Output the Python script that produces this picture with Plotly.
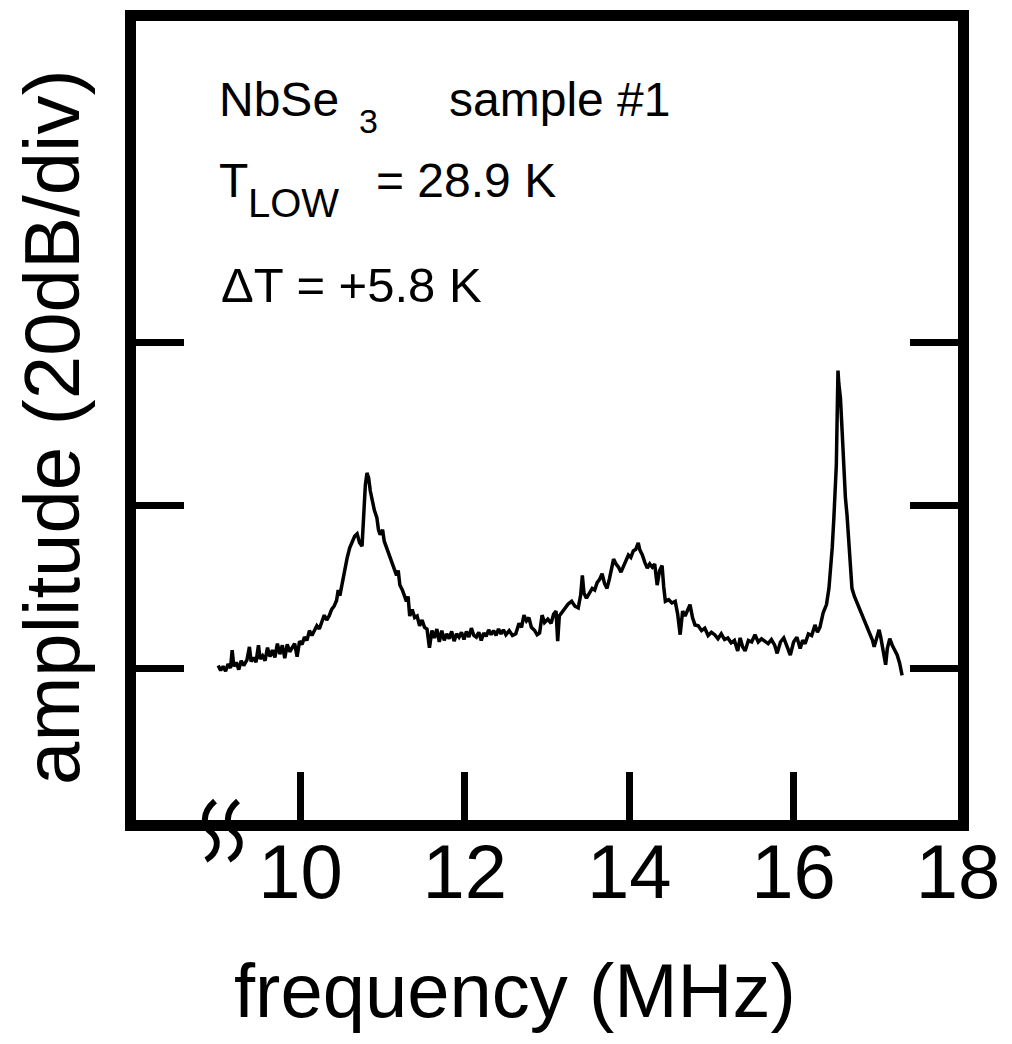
import plotly.graph_objects as go

# ---------------- data ----------------
freq_mhz = [
    9.00, 9.03, 9.06, 9.09, 9.12, 9.15, 9.17, 9.19, 9.22, 9.25, 9.28, 9.31, 9.35, 9.38, 9.40,
    9.43, 9.46, 9.49, 9.51, 9.54, 9.57, 9.60, 9.63, 9.66, 9.69, 9.72, 9.75, 9.78, 9.81, 9.84,
    9.87, 9.90, 9.93, 9.96, 9.99, 10.02, 10.05, 10.08, 10.11, 10.14, 10.17, 10.20, 10.23, 10.26,
    10.29, 10.32, 10.35, 10.38, 10.41, 10.44, 10.46, 10.48, 10.51, 10.54, 10.57, 10.60, 10.63,
    10.66, 10.69, 10.72, 10.75, 10.77, 10.79, 10.81, 10.83, 10.85, 10.88, 10.90, 10.93, 10.95,
    10.97, 11.00, 11.02, 11.05, 11.09, 11.13, 11.17, 11.19, 11.21, 11.24, 11.27, 11.29, 11.31,
    11.33, 11.36, 11.39, 11.42, 11.45, 11.48, 11.51, 11.54, 11.57, 11.60, 11.63, 11.66, 11.69,
    11.72, 11.75, 11.78, 11.81, 11.84, 11.87, 11.90, 11.93, 11.96, 11.99, 12.02, 12.05, 12.08,
    12.11, 12.14, 12.17, 12.20, 12.23, 12.26, 12.29, 12.32, 12.35, 12.38, 12.41, 12.44, 12.47,
    12.50, 12.54, 12.58, 12.62, 12.66, 12.69, 12.72, 12.75, 12.78, 12.81, 12.85, 12.88, 12.91,
    12.94, 12.97, 13.01, 13.05, 13.08, 13.11, 13.13, 13.15, 13.18, 13.22, 13.26, 13.30, 13.34,
    13.38, 13.41, 13.43, 13.45, 13.48, 13.52, 13.55, 13.58, 13.61, 13.64, 13.67, 13.70, 13.73,
    13.76, 13.79, 13.81, 13.84, 13.87, 13.90, 13.93, 13.96, 13.99, 14.02, 14.05, 14.08, 14.11,
    14.13, 14.16, 14.19, 14.22, 14.25, 14.28, 14.31, 14.34, 14.37, 14.40, 14.42, 14.44, 14.48,
    14.52, 14.56, 14.59, 14.62, 14.65, 14.68, 14.71, 14.74, 14.77, 14.80, 14.84, 14.88, 14.92,
    14.96, 15.00, 15.04, 15.08, 15.12, 15.16, 15.20, 15.24, 15.28, 15.32, 15.35, 15.38, 15.41,
    15.45, 15.49, 15.53, 15.57, 15.61, 15.65, 15.69, 15.73, 15.77, 15.80, 15.84, 15.88, 15.92,
    15.96, 16.00, 16.04, 16.08, 16.11, 16.14, 16.18, 16.22, 16.26, 16.29, 16.32, 16.36, 16.40,
    16.43, 16.45, 16.47, 16.49, 16.51, 16.52, 16.53, 16.54, 16.55, 16.57, 16.59, 16.61, 16.63,
    16.65, 16.67, 16.69, 16.71, 16.74, 16.78, 16.82, 16.86, 16.90, 16.93, 16.96, 16.98, 17.01,
    17.04, 17.06, 17.08, 17.10, 17.12, 17.14, 17.17, 17.20, 17.23, 17.26, 17.29, 17.32,
]
amp_db = [
    0.3, -0.3, 0.2, -0.4, 0.5, 0.0, 2.2, 0.2, 0.7, -0.2, 0.9, 0.3, 1.0, 2.6, 0.8,
    1.3, 0.7, 2.8, 1.1, 1.5, 0.9, 2.5, 1.4, 2.2, 1.3, 3.0, 1.7, 2.8, 1.2, 2.9,
    2.0, 2.6, 3.0, 1.4, 3.3, 2.9, 3.8, 3.4, 4.6, 4.0, 4.7, 5.2, 4.8, 5.8,
    6.5, 5.9, 6.4, 7.2, 7.6, 8.3, 9.6, 8.9, 10.6, 12.4, 13.6, 14.8, 15.6,
    16.2, 16.5, 15.4, 15.0, 18.5, 22.5, 24.0, 23.4, 21.8, 20.2, 19.4, 18.5, 17.0,
    16.4, 17.0, 15.6, 14.8, 13.6, 12.4, 11.4, 12.0, 10.2, 9.6, 8.6, 8.2, 8.8,
    6.4, 7.2, 6.2, 6.4, 5.2, 5.9, 5.0, 4.8, 2.5, 4.6, 3.7, 4.8, 3.2,
    4.6, 3.4, 4.2, 3.6, 4.5, 3.3, 4.2, 3.8, 4.4, 3.5, 4.5, 3.8, 4.9,
    4.0, 3.8, 4.4, 3.4, 4.3, 3.9, 4.7, 4.1, 4.6, 4.0, 4.8, 4.2, 4.7,
    4.1, 4.6, 4.0, 4.2, 5.5, 5.0, 6.5, 5.8, 6.2, 5.0, 4.6, 4.1, 4.3,
    6.5, 5.6, 6.0, 5.5, 6.6, 7.0, 3.3, 6.4, 6.8, 7.4, 7.9, 8.2, 7.6,
    7.4, 9.0, 11.4, 9.2, 8.6, 9.4, 9.8, 9.6, 10.5, 10.9, 11.6, 10.4, 9.8,
    11.0, 12.6, 13.4, 12.8, 12.4, 11.8, 12.6, 13.4, 13.9, 13.6, 14.4, 14.6, 15.4,
    14.5, 13.9, 13.0, 12.3, 12.8, 12.4, 12.8, 10.2, 12.0, 12.6, 10.0, 8.2, 8.4,
    8.0, 8.2, 6.6, 4.1, 7.0, 6.4, 7.2, 7.8, 6.2, 5.3, 5.2, 4.6, 4.9,
    4.0, 4.4, 4.1, 3.6, 4.2, 3.5, 3.7, 3.1, 3.4, 2.1, 3.7, 2.6, 2.1,
    3.4, 3.2, 4.1, 3.2, 3.6, 3.3, 3.0, 3.5, 2.8, 1.8, 3.2, 3.7, 2.6,
    1.6, 3.2, 3.8, 2.4, 3.4, 3.0, 4.2, 4.0, 5.3, 4.4, 5.0, 6.8, 7.8,
    9.8, 12.0, 14.8, 18.5, 22.5, 25.0, 31.0, 36.6, 35.0, 33.2, 29.2, 24.6, 21.0,
    18.8, 16.0, 13.5, 9.8, 8.8, 7.8, 6.8, 5.9, 4.8, 4.2, 3.4, 2.6, 3.8,
    4.7, 3.8, 2.6, 1.2, 0.4, 2.4, 3.6, 2.8, 2.3, 1.6, 0.6, -0.9,
]

x_tick_vals = [10, 12, 14, 16, 18]
x_tick_text = ["10", "12", "14", "16", "18"]
y_tick_vals = [0, 20, 40]          # 20 dB per division

x_range = [8.0, 18.0]
y_range = [-18.7, 79.6]

# ---------------- layout geometry (pixels) ----------------
FIG_W, FIG_H = 1012, 1044
L, R, T, B = 136, 54, 21, 224
PW, PH = FIG_W - L - R, FIG_H - T - B
FONT = "Liberation Sans, Arial, Helvetica, sans-serif"


def px_x(p):
    return (p - L) / PW


def px_y(p):
    return (FIG_H - B - p) / PH


fig = go.Figure()
fig.add_trace(go.Scatter(
    x=freq_mhz, y=amp_db, mode="lines",
    line=dict(color="black", width=3.5), showlegend=False,
    hoverinfo="skip",
))

axis_common = dict(
    showline=True, linecolor="black", linewidth=11,
    showgrid=False, zeroline=False,
    ticks="inside", ticklen=48, tickwidth=7, tickcolor="black",
)

fig.update_xaxes(
    range=x_range, tickvals=x_tick_vals, ticktext=x_tick_text,
    mirror=True, tickfont=dict(family=FONT, size=76, color="black"),
    ticklabelstandoff=-24,
    **axis_common,
)
fig.update_yaxes(
    range=y_range, tickvals=y_tick_vals, showticklabels=False,
    mirror="ticks",
    **axis_common,
)

annos = []
# axis titles
annos.append(dict(text="frequency (MHz)", x=px_x(515), y=px_y(990), xref="paper", yref="paper",
                  xanchor="center", yanchor="middle", showarrow=False,
                  font=dict(family=FONT, size=76, color="black")))
annos.append(dict(text="amplitude (20dB/div)", x=px_x(52), y=px_y(428), xref="paper", yref="paper",
                  xanchor="center", yanchor="middle", showarrow=False, textangle=-90,
                  font=dict(family=FONT, size=78, color="black")))


def label(text, xpix, ypix, size):
    annos.append(dict(text=text, x=px_x(xpix), y=px_y(ypix), xref="paper", yref="paper",
                      xanchor="left", yanchor="middle", showarrow=False,
                      font=dict(family=FONT, size=size, color="black")))


label("NbSe", 217, 100, 48)
label("3", 357, 121, 34)
label("sample #1", 447, 100, 48)
label("T", 217, 180, 48)
label("LOW", 246, 203, 40)
label("= 28.9 K", 374, 180, 48)
label("ΔT = +5.8 K", 219, 285, 49)

# axis-break squiggles on the bottom frame line
shapes = []
for dx in (0, 23):
    pts = [(215 + dx, 801), (201 + dx, 813), (203 + dx, 827), (212 + dx, 833),
           (220 + dx, 840), (218 + dx, 853), (206 + dx, 860)]
    P = [(px_x(a), px_y(b)) for a, b in pts]
    path = "M {:.5f},{:.5f} C {:.5f},{:.5f} {:.5f},{:.5f} {:.5f},{:.5f} C {:.5f},{:.5f} {:.5f},{:.5f} {:.5f},{:.5f}".format(
        *[c for p in P for c in p])
    shapes.append(dict(type="path", path=path, xref="paper", yref="paper",
                       line=dict(color="black", width=6), layer="above"))

fig.update_layout(
    width=FIG_W, height=FIG_H,
    margin=dict(l=L, r=R, t=T, b=B, autoexpand=False),
    paper_bgcolor="white", plot_bgcolor="white",
    annotations=annos, shapes=shapes,
    font=dict(family=FONT, color="black"),
)

fig.write_html("out.html")
